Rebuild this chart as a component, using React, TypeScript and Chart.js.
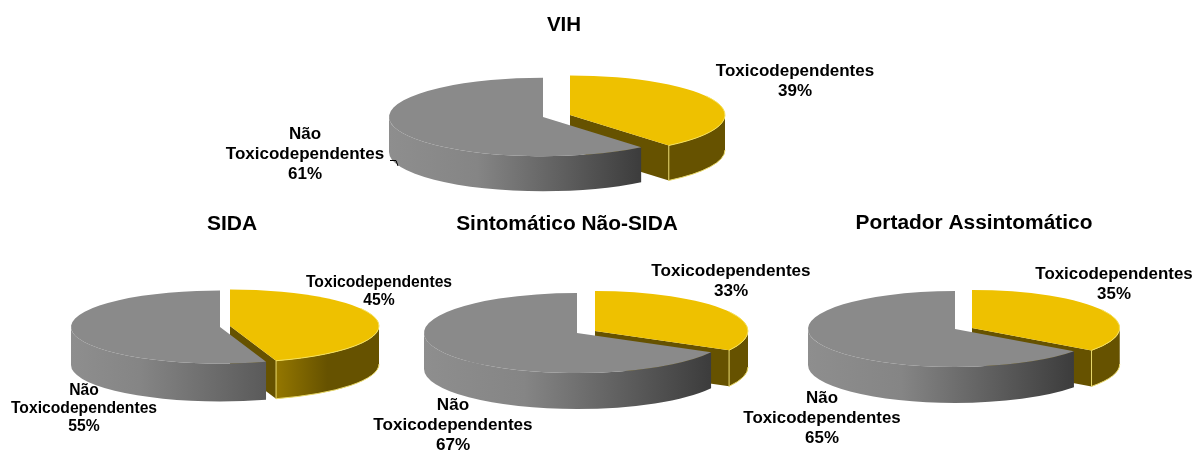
import React, { useEffect, useRef } from "react";
import { Chart, registerables } from "chart.js";

Chart.register(...registerables);

const categories = ["Toxicodependentes", "Não Toxicodependentes"];
const chartTitles = ["VIH", "SIDA", "Sintomático Não-SIDA", "Portador Assintomático"];
const vihValues = [39, 61];
const sidaValues = [45, 55];
const sintomaticoValues = [33, 67];
const portadorValues = [35, 65];
const seriesValues = [vihValues, sidaValues, sintomaticoValues, portadorValues];

const W = 1194;
const H = 450;
const YELLOW = "#eec100";
const GREY = "#8a8a8a";

type Layout = {
  cx: number; cy: number; r: number; k: number; depth: number;
  dx: number; dy: number; grow: number; fs: number; tfs: number; lh: number;
  title: [number, number];
  labelA: [number, number];
  labelB: [number, number];
  greyEnd: string; leader?: boolean; yellowLeft: string;
};

const layouts: Layout[] = [
  { cx: 543, cy: 117, r: 154, k: 0.255, depth: 35, dx: 27, dy: -2, grow: 1.0065, fs: 17, tfs: 20.5, lh: 20,
    title: [564, 25], labelA: [795, 71], labelB: [305, 134], greyEnd: "#3c3c3c", leader: true, yellowLeft: "#665200" },
  { cx: 220, cy: 327, r: 149, k: 0.245, depth: 38, dx: 10, dy: -1, grow: 1.0, fs: 15.7, tfs: 21, lh: 18,
    title: [232, 224], labelA: [379, 283], labelB: [84, 391], greyEnd: "#5a5a5a", yellowLeft: "#947700" },
  { cx: 577, cy: 333, r: 153, k: 0.262, depth: 36, dx: 18, dy: -2, grow: 1.0, fs: 17.1, tfs: 20.9, lh: 20,
    title: [567, 224], labelA: [731, 271], labelB: [453, 405], greyEnd: "#3c3c3c", yellowLeft: "#665200" },
  { cx: 955, cy: 329, r: 147, k: 0.258, depth: 36, dx: 17, dy: -1, grow: 1.005, fs: 16.9, tfs: 20.9, lh: 20,
    title: [974, 223], labelA: [1114, 274], labelB: [822, 398], greyEnd: "#3c3c3c", yellowLeft: "#665200" },
];

const pie3d = {
  id: "pie3d",
  beforeDatasetDraw(chart: any, args: any, opts: any) {
    const ctx: CanvasRenderingContext2D = chart.ctx;
    const L: Layout = opts.layout;
    const arcs = args.meta.data;
    arcs.forEach((arc: any, i: number) => {
      const p = arc.getProps(["x", "y", "startAngle", "endAngle", "outerRadius"], true);
      const isYellow = i === 0;
      const s = isYellow ? L.grow : 1;
      const x = p.x + (isYellow ? L.dx : 0);
      const y = p.y + (isYellow ? L.dy : 0);
      const rx = p.outerRadius * s;
      const ry = rx * L.k;
      const a0 = p.startAngle;
      const a1 = p.endAngle;
      const v0 = Math.max(a0, 0);
      const v1 = Math.min(a1, Math.PI);
      const ex = x + rx * Math.cos(a1);
      const ey = y + ry * Math.sin(a1);

      // radial face at the end of the slice
      if (Math.cos(a1) > 0) {
        ctx.fillStyle = "#665200";
        ctx.beginPath();
        ctx.moveTo(x, y);
        ctx.lineTo(ex, ey);
        ctx.lineTo(ex, ey + L.depth);
        ctx.lineTo(x, y + L.depth);
        ctx.closePath();
        ctx.fill();
      }

      // outer wall
      if (v1 > v0) {
        const xa = x + rx * Math.cos(v1);
        const xb = x + rx * Math.cos(v0);
        const g = ctx.createLinearGradient(xa, 0, xb, 0);
        if (isYellow) {
          g.addColorStop(0, L.yellowLeft);
          g.addColorStop(0.5, "#665200");
          g.addColorStop(1, "#665200");
        } else {
          g.addColorStop(0, "#8e8e8e");
          g.addColorStop(0.35, "#858585");
          g.addColorStop(1, L.greyEnd);
        }
        ctx.fillStyle = g;
        ctx.beginPath();
        ctx.ellipse(x, y, rx, ry, 0, v0, v1, false);
        ctx.ellipse(x, y + L.depth, rx, ry, 0, v1, v0, true);
        ctx.closePath();
        ctx.fill();
        if (isYellow) {
          ctx.strokeStyle = "#e9d96a";
          ctx.lineWidth = 1;
          ctx.beginPath();
          ctx.moveTo(ex, ey);
          ctx.lineTo(ex, ey + L.depth);
          ctx.ellipse(x, y + L.depth, rx, ry, 0, v1, v0, true);
          ctx.stroke();
        }
      }

      // top face: the library's own arc, squashed onto the ellipse
      ctx.save();
      ctx.translate(x, y);
      ctx.scale(s, s * L.k);
      ctx.translate(-p.x, -p.y);
      arc.draw(ctx);
      ctx.restore();

      if (isYellow) {
        ctx.strokeStyle = "#f4e05c";
        ctx.lineWidth = 1;
        ctx.beginPath();
        ctx.ellipse(x, y, rx, ry, 0, Math.max(a0, -0.5), a1, false);
        ctx.stroke();
      }
    });
    return false;
  },
  afterDraw(chart: any, _args: any, opts: any) {
    const ctx: CanvasRenderingContext2D = chart.ctx;
    const L: Layout = opts.layout;
    const labels: string[] = chart.data.labels;
    const values: number[] = chart.data.datasets[0].data;
    ctx.save();
    ctx.fillStyle = "#000";
    ctx.textAlign = "center";
    ctx.textBaseline = "middle";
    ctx.font = `bold ${L.tfs}px "Liberation Sans"`;
    ctx.fillText(opts.title, L.title[0], L.title[1]);
    ctx.font = `bold ${L.fs}px "Liberation Sans"`;
    const a = [labels[0], `${values[0]}%`];
    a.forEach((t, i) => ctx.fillText(t, L.labelA[0], L.labelA[1] + i * L.lh));
    const b = [...labels[1].split(" "), `${values[1]}%`];
    b.forEach((t, i) => ctx.fillText(t, L.labelB[0], L.labelB[1] + i * L.lh));
    if (L.leader) {
      ctx.strokeStyle = "#000";
      ctx.lineWidth = 1;
      ctx.beginPath();
      ctx.moveTo(390, 160.5);
      ctx.lineTo(396, 160.5);
      ctx.lineTo(398, 166);
      ctx.stroke();
    }
    ctx.restore();
  },
};

function Pie({ index }: { index: number }) {
  const ref = useRef<HTMLCanvasElement>(null);
  useEffect(() => {
    const L = layouts[index];
    const chart = new Chart(ref.current as HTMLCanvasElement, {
      type: "pie",
      data: {
        labels: categories,
        datasets: [{
          data: seriesValues[index],
          backgroundColor: [YELLOW, GREY],
          borderWidth: 0,
          radius: L.r,
          clip: false,
        }],
      },
      options: {
        animation: false,
        responsive: false,
        devicePixelRatio: 1,
        layout: {
          padding: {
            left: Math.max(0, 2 * L.cx - W),
            right: Math.max(0, W - 2 * L.cx),
            top: Math.max(0, 2 * L.cy - H),
            bottom: Math.max(0, H - 2 * L.cy),
          },
        },
        plugins: {
          legend: { display: false },
          tooltip: { enabled: false },
          title: { display: false },
          pie3d: { layout: L, title: chartTitles[index] },
        },
      } as any,
      plugins: [pie3d as any],
    });
    return () => chart.destroy();
  }, [index]);
  return (
    <canvas
      ref={ref}
      width={W}
      height={H}
      style={{ position: "absolute", left: 0, top: 0, width: W, height: H, display: "block" }}
    />
  );
}

export default function App() {
  return (
    <div style={{ position: "absolute", left: 0, top: 0, width: W, height: H, background: "#fff", overflow: "hidden" }}>
      {chartTitles.map((_, i) => <Pie key={i} index={i} />)}
    </div>
  );
}
